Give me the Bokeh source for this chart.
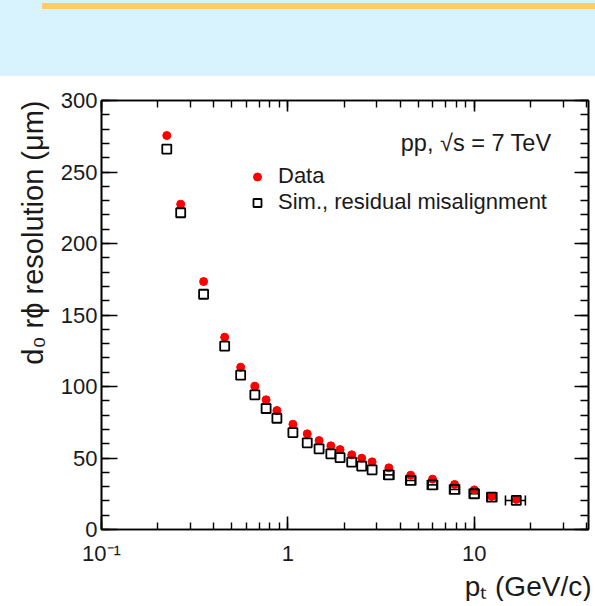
from bokeh.plotting import figure
from bokeh.models import (LogAxis, LinearAxis, Range1d, SingleIntervalTicker, LogTicker,
                          CustomJSTickFormatter, Legend, LegendItem, Label, Title,
                          ColumnDataSource, Whisker, TeeHead, Div)
from bokeh.layouts import column
from bokeh.embed import file_html
from bokeh.resources import INLINE

# Transverse-momentum bin centres (GeV/c)
pt = [0.224, 0.266, 0.353, 0.458, 0.558, 0.665, 0.764, 0.873, 1.064, 1.27, 1.47,
      1.70, 1.905, 2.20, 2.49, 2.83, 3.48, 4.56, 5.97, 7.84, 10.0, 12.4, 16.8]
# d0 r-phi resolution (um), measured
data_res = [275.5, 227.5, 173.4, 134.5, 113.5, 100.2, 90.7, 83.2, 73.6, 66.9, 62.2,
            58.5, 55.9, 52.2, 49.9, 47.3, 43.1, 38.0, 35.2, 31.5, 27.7, 23.1, 21.0]
# d0 r-phi resolution (um), simulation with residual misalignment
sim_res = [266.0, 221.5, 164.5, 128.2, 107.9, 94.2, 84.6, 77.8, 67.8, 60.6, 56.4,
           52.9, 50.3, 47.1, 44.3, 41.7, 38.2, 34.3, 31.2, 28.0, 25.0, 22.6, 20.3]

# horizontal extent drawn on the high-pt simulation points
sim_err_res = [38.2, 34.3, 31.2, 28.0, 25.0, 22.6, 20.3]
sim_err_lo = [3.27, 4.29, 5.60, 7.37, 9.40, 11.7, 14.7]
sim_err_hi = [3.70, 4.85, 6.35, 8.34, 10.6, 13.2, 18.8]

x_tick_vals = [0.1, 1, 10]
x_tick_labels = ["10\u207b\u00b9", "1", "10"]

FONT = "Liberation Sans"
INK = "#1a1a1a"

p = figure(frame_width=487, frame_height=429, x_axis_type="log",
           x_range=Range1d(0.1, 41), y_range=Range1d(0, 300),
           output_backend="svg", toolbar_location=None,
           min_border_left=101, min_border_right=7,
           min_border_top=24, min_border_bottom=67)
p.xgrid.visible = False
p.ygrid.visible = False
p.outline_line_color = "black"
p.outline_line_width = 1.6
p.background_fill_color = "white"
p.border_fill_color = "white"

x_fmt = CustomJSTickFormatter(args=dict(vals=x_tick_vals, labels=x_tick_labels), code="""
const i = vals.findIndex(v => Math.abs(Math.log10(v) - Math.log10(tick)) < 1e-6);
return i >= 0 ? labels[i] : "";
""")
blank_fmt = CustomJSTickFormatter(code="return '';")


def style_axis(ax, major_in, minor_in):
    ax.major_tick_in = major_in
    ax.major_tick_out = 0
    ax.minor_tick_in = minor_in
    ax.minor_tick_out = 0
    ax.axis_line_color = "black"
    ax.axis_line_width = 1.6
    ax.major_tick_line_color = "black"
    ax.major_tick_line_width = 1.6
    ax.minor_tick_line_color = "black"
    ax.minor_tick_line_width = 1.4
    ax.major_label_text_font = FONT
    ax.major_label_text_font_size = "22px"
    ax.major_label_text_color = INK


xax = p.xaxis[0]
xax.ticker = LogTicker(num_minor_ticks=10)
xax.formatter = x_fmt
style_axis(xax, 13, 7)
xax.major_label_standoff = 11

yax = p.yaxis[0]
yax.ticker = SingleIntervalTicker(interval=50, num_minor_ticks=5)
style_axis(yax, 16, 8)
yax.major_label_standoff = 4

top = LogAxis(ticker=LogTicker(num_minor_ticks=10), formatter=blank_fmt)
style_axis(top, 11, 7)
top.major_label_standoff = 0
p.add_layout(top, "above")

right = LinearAxis(ticker=SingleIntervalTicker(interval=50, num_minor_ticks=5), formatter=blank_fmt)
style_axis(right, 14, 8)
right.major_label_standoff = 0
p.add_layout(right, "right")

# axis titles, flush with the top and right ends of the frame
p.add_layout(Title(text="p\u209c (GeV/c)", align="right", offset=-3, standoff=0,
                   text_font=FONT, text_font_size="28px", text_font_style="normal",
                   text_color=INK), "below")
p.add_layout(Title(text="d\u2080 r\u03d5 resolution (\u03bcm)", align="right", standoff=17,
                   text_font=FONT, text_font_size="29px", text_font_style="normal",
                   text_color=INK), "left")

# measured points first, simulation squares drawn on top
r_data = p.scatter(pt, data_res, marker="circle", size=8,
                   fill_color="#ff0000", line_color="#ff0000")

err_src = ColumnDataSource(dict(y=sim_err_res, lo=sim_err_lo, hi=sim_err_hi))
p.add_layout(Whisker(source=err_src, base="y", lower="lo", upper="hi", dimension="width",
                     line_color="black", line_width=1.6,
                     lower_head=TeeHead(size=10, line_color="black", line_width=1.6),
                     upper_head=TeeHead(size=10, line_color="black", line_width=1.6)))

r_sim = p.scatter(pt, sim_res, marker="square", size=9, fill_color=None,
                  line_color="black", line_width=1.8)

legend = Legend(items=[LegendItem(label="Data", renderers=[r_data]),
                       LegendItem(label="Sim., residual misalignment", renderers=[r_sim])],
                location=(146, 314), orientation="vertical",
                padding=0, spacing=-4, margin=0,
                glyph_width=20, glyph_height=21, label_height=21, label_standoff=11,
                label_text_font=FONT, label_text_font_size="22px", label_text_color=INK,
                border_line_color=None, background_fill_alpha=0)
p.add_layout(legend)

p.add_layout(Label(x=450, y=387, x_units="screen", y_units="screen",
                   text="pp, \u221as = 7 TeV", text_align="right", text_baseline="alphabetic",
                   text_font=FONT, text_font_size="23.5px", text_color=INK))

banner = Div(width=595, height=76, margin=0, text=(
    '<div style="position:relative;width:595px;height:76px;background:#d9f3fe;">'
    '<div style="position:absolute;left:42px;top:3px;width:553px;height:6px;'
    'background:#ffcc66;"></div></div>'))

layout = column(banner, p, spacing=0)
open("out.html", "w").write(file_html(layout, INLINE))
